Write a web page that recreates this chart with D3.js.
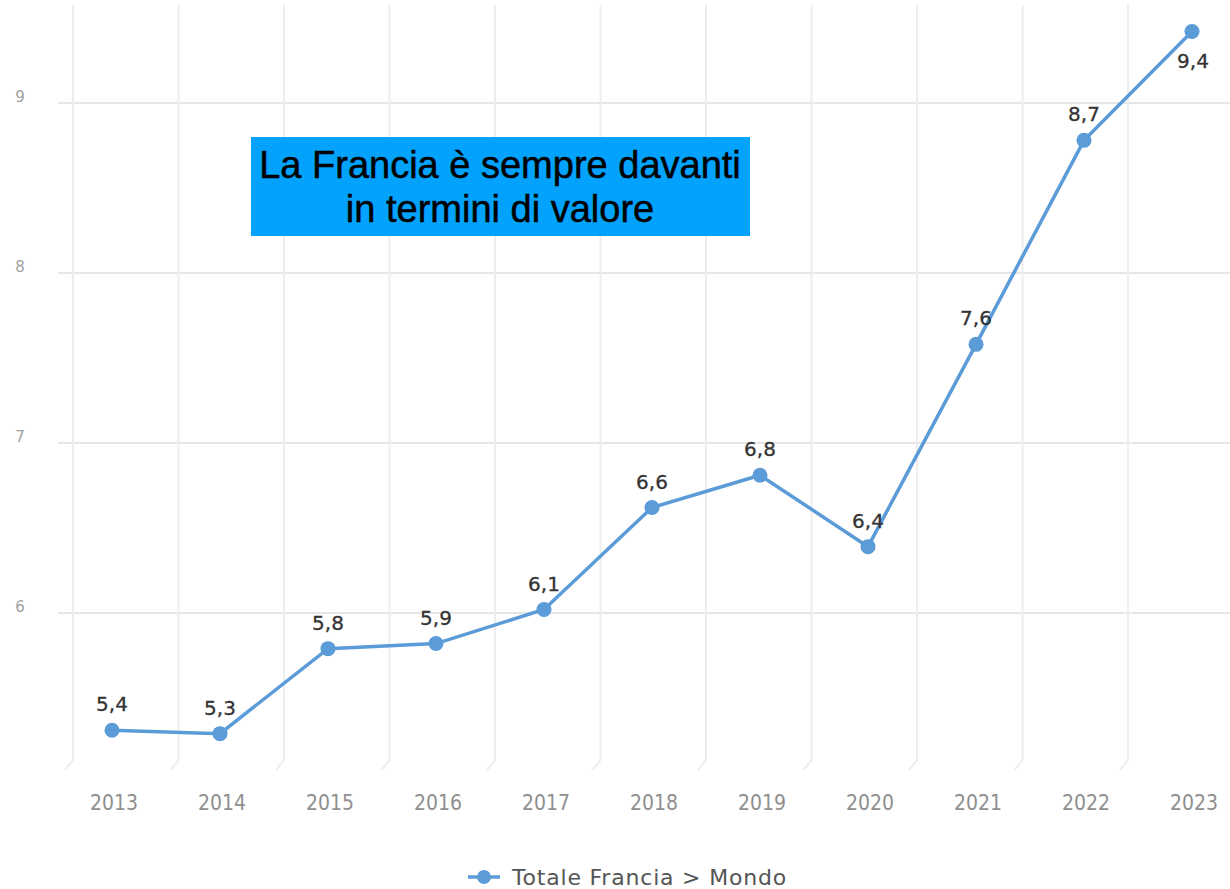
<!DOCTYPE html>
<html>
<head>
<meta charset="utf-8">
<script src="https://cdn.jsdelivr.net/npm/d3@7"></script>
<style>
  body { margin: 0; background: #fff; }
  svg { display: block; }
</style>
</head>
<body>
<svg width="1230" height="889"></svg>
<script>
const years = ["2013","2014","2015","2016","2017","2018","2019","2020","2021","2022","2023"];
const values = [5.31, 5.29, 5.79, 5.82, 6.02, 6.62, 6.81, 6.39, 7.58, 8.78, 9.42];
const valueLabels = ["5,4","5,3","5,8","5,9","6,1","6,6","6,8","6,4","7,6","8,7","9,4"];
const yTicks = [6, 7, 8, 9];
const seriesName = "Totale Francia > Mondo";
const noteLines = ["La Francia è sempre davanti", "in termini di valore"];

const LINE_COLOR = "#5b9bd8";
const GRID_COLOR = "#e6e6e6";

const svg = d3.select("svg");

const x = d3.scalePoint().domain(years).range([112, 1192]);
const xGrid = d3.scaleBand().domain(years).range([73, 73 + 11 * 105.5]);
const y = d3.scaleLinear().domain([5.135, 9.576]).range([760, 5]);

// horizontal grid
svg.append("g").selectAll("line")
  .data(yTicks)
  .join("line")
  .attr("x1", 58).attr("x2", 1230)
  .attr("y1", d => y(d)).attr("y2", d => y(d))
  .attr("stroke", GRID_COLOR).attr("stroke-width", 2);

// vertical grid, with the little bent foot at the bottom
svg.append("g").selectAll("path")
  .data(years)
  .join("path")
  .attr("d", d => {
    const gx = xGrid(d);
    return `M${gx},${y(9.576)} L${gx},${y(5.135)} L${gx - 8},${y(5.135) + 10}`;
  })
  .attr("fill", "none")
  .attr("stroke", "#ededed").attr("stroke-width", 2);

// y tick labels
svg.append("g").selectAll("text")
  .data(yTicks)
  .join("text")
  .attr("x", 20).attr("y", d => y(d) - 1)
  .attr("text-anchor", "middle")
  .attr("font-family", "'DejaVu Sans', sans-serif")
  .attr("font-size", 15)
  .attr("fill", "#a0a0a0")
  .text(d => d);

// x tick labels
svg.append("g").selectAll("text")
  .data(years)
  .join("text")
  .attr("x", d => x(d) + 2).attr("y", 810)
  .attr("text-anchor", "middle")
  .attr("font-family", "'DejaVu Sans Condensed', 'DejaVu Sans', sans-serif")
  .attr("font-size", 21)
  .attr("fill", "#8f8f8f")
  .text(d => d);

// line + points
const line = d3.line()
  .x((d, i) => x(years[i]))
  .y(d => y(d));

svg.append("path")
  .datum(values)
  .attr("d", line)
  .attr("fill", "none")
  .attr("stroke", LINE_COLOR)
  .attr("stroke-width", 3.5);

svg.append("g").selectAll("circle")
  .data(values)
  .join("circle")
  .attr("cx", (d, i) => x(years[i]))
  .attr("cy", d => y(d))
  .attr("r", 7.5)
  .attr("fill", LINE_COLOR);

// value labels (last one goes under the point, no room above)
svg.append("g").selectAll("text")
  .data(values)
  .join("text")
  .attr("x", (d, i) => x(years[i]) + (i === values.length - 1 ? 1 : 0))
  .attr("y", (d, i) => i === values.length - 1 ? y(d) + 36 : y(d) - 19)
  .attr("text-anchor", "middle")
  .attr("font-family", "'DejaVu Sans', sans-serif")
  .attr("font-size", 20)
  .attr("fill", "#333")
  .attr("stroke", "#333").attr("stroke-width", 0.3)
  .text((d, i) => valueLabels[i]);

// annotation box
const note = svg.append("g");
note.append("rect")
  .attr("x", 251).attr("y", 137)
  .attr("width", 499).attr("height", 99)
  .attr("fill", "#02a2fd");
note.selectAll("text")
  .data(noteLines)
  .join("text")
  .attr("x", 500)
  .attr("y", (d, i) => 178 + i * 44)
  .attr("text-anchor", "middle")
  .attr("font-family", "'Liberation Sans', Arial, sans-serif")
  .attr("font-size", 38)
  .attr("fill", "#000")
  .attr("stroke", "#000").attr("stroke-width", 0.5)
  .text(d => d);

// legend
const legend = svg.append("g").attr("transform", "translate(468,877)");
legend.append("line")
  .attr("x1", 0).attr("x2", 32)
  .attr("stroke", LINE_COLOR).attr("stroke-width", 3.5);
legend.append("circle")
  .attr("cx", 16).attr("r", 7)
  .attr("fill", LINE_COLOR);
legend.append("text")
  .attr("x", 44).attr("y", 8)
  .attr("font-family", "'DejaVu Sans', sans-serif")
  .attr("font-size", 22)
  .attr("letter-spacing", 0.8)
  .attr("fill", "#555")
  .text(seriesName);
</script>
</body>
</html>
